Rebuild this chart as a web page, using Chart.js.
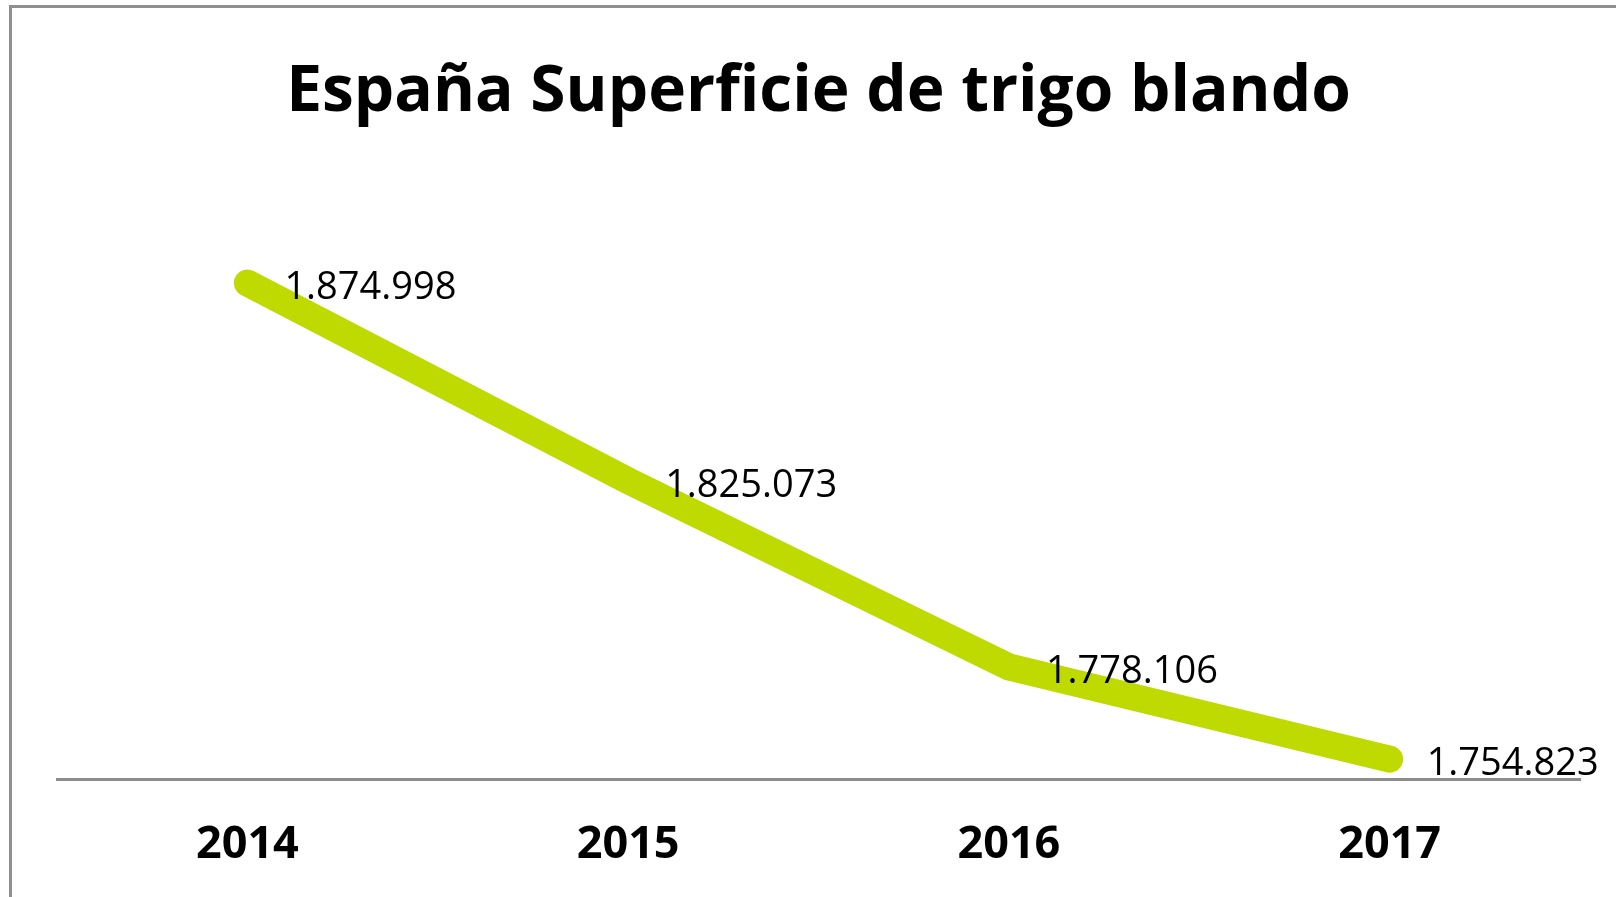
<!DOCTYPE html>
<html lang="es">
<head>
<meta charset="utf-8">
<title>España Superficie de trigo blando</title>
<script src="https://cdn.jsdelivr.net/npm/chart.js@4.4.1/dist/chart.umd.min.js"></script>
<style>
  html, body { margin: 0; padding: 0; background: #fff; overflow: hidden; }
  .frame {
    position: absolute; left: 9px; top: 5px;
    width: 1700px; height: 1000px;
    border: 3px solid #8f8f8f;
  }
  #chart { position: absolute; left: 0; top: 0; }
</style>
</head>
<body>
<div class="frame"></div>
<canvas id="chart" width="1616" height="897"></canvas>
<script>
const years = ['2014', '2015', '2016', '2017'];
const hectares = [1874998, 1825073, 1778106, 1754823];
const yMin = 1749800;
const yMax = 1896000;

// 1874998 -> "1.874.998"
const fmt = v => String(v).replace(/\B(?=(\d{3})+(?!\d))/g, '.');

// value labels to the right of each point
const pointLabels = {
    id: 'pointLabels',
    afterDatasetsDraw(chart) {
        const { ctx } = chart;
        const meta = chart.getDatasetMeta(0);
        ctx.save();
        ctx.font = '38px "Open Sans", sans-serif';
        ctx.fillStyle = '#000';
        ctx.textAlign = 'left';
        ctx.textBaseline = 'middle';
        meta.data.forEach((pt, i) => {
            ctx.fillText(fmt(hectares[i]), pt.x + 37, pt.y + 5);
        });
        ctx.restore();
    }
};

new Chart(document.getElementById('chart'), {
    type: 'line',
    data: {
        labels: years,
        datasets: [{
            data: hectares,
            borderColor: '#bfda00',
            borderWidth: 27,
            borderCapStyle: 'round',
            borderJoinStyle: 'miter',
            pointRadius: 0,
            pointHoverRadius: 0,
            tension: 0,
            fill: false
        }]
    },
    options: {
        responsive: false,
        animation: false,
        devicePixelRatio: 1,
        layout: { padding: { left: 57, right: 36, top: 0, bottom: 0 } },
        plugins: {
            legend: { display: false },
            tooltip: { enabled: false },
            title: {
                display: true,
                text: 'España Superficie de trigo blando',
                color: '#000',
                font: { family: '"Open Sans", sans-serif', size: 64, weight: '700' },
                padding: { top: 54, bottom: 69 }
            }
        },
        scales: {
            x: {
                offset: true,
                grid: { display: false, drawTicks: false },
                border: { display: true, color: '#8c8c8c', width: 3 },
                ticks: {
                    color: '#000',
                    padding: 39,
                    font: { family: '"Open Sans", sans-serif', size: 45, weight: '700' }
                },
                afterFit(scale) { scale.height = 118; }
            },
            y: {
                display: false,
                min: yMin,
                max: yMax
            }
        }
    },
    plugins: [pointLabels]
});
</script>
</body>
</html>
